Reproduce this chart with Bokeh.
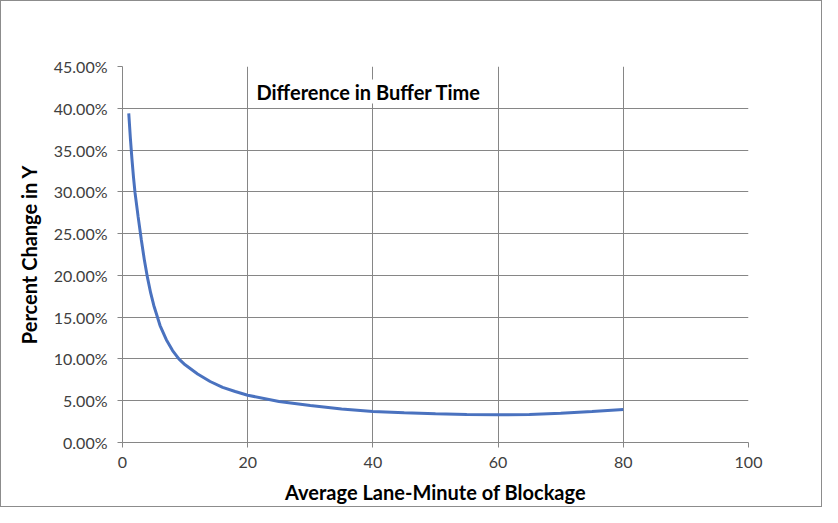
from bokeh.plotting import figure
from bokeh.models import Range1d, NumeralTickFormatter, FixedTicker, Label
from bokeh.embed import file_html
from bokeh.resources import INLINE

# Data
minutes = [1, 1.25, 1.5, 1.75, 2, 2.5, 3, 3.5, 4, 4.5, 5, 6, 7, 8, 9, 10, 12, 14, 16, 18, 20,
           25, 30, 35, 40, 45, 50, 55, 60, 65, 70, 75, 80]
pct_change = [0.394, 0.365, 0.340, 0.318, 0.299, 0.270, 0.243, 0.218, 0.197, 0.179, 0.164, 0.140,
              0.123, 0.110, 0.100, 0.093, 0.082, 0.073, 0.066, 0.061, 0.0566,
              0.049, 0.0443, 0.040, 0.0371, 0.0355, 0.0343, 0.0335, 0.0331, 0.0335, 0.035, 0.037, 0.0395]
x_ticks = [0, 20, 40, 60, 80, 100]
y_ticks = [0.0, 0.05, 0.10, 0.15, 0.20, 0.25, 0.30, 0.35, 0.40, 0.45]

FONT = "Lato"
W, H = 822, 507
p = figure(width=W, height=H, output_backend="svg", toolbar_location=None,
           x_range=Range1d(0, 100), y_range=Range1d(0, 0.45),
           min_border_left=121, min_border_right=75, min_border_top=65, min_border_bottom=66)
p.styles = {"border": "1px solid #8c8c8c"}
p.outline_line_color = None
p.background_fill_color = "white"
p.border_fill_color = "white"

p.line(minutes, pct_change, line_color="#4a72bf", line_width=3)

grid_col = "#868686"
p.xgrid.ticker = FixedTicker(ticks=x_ticks)
p.ygrid.ticker = FixedTicker(ticks=y_ticks)
p.xgrid.grid_line_color = grid_col
p.ygrid.grid_line_color = grid_col
p.xgrid.grid_line_width = 1
p.ygrid.grid_line_width = 1

for ax in (p.xaxis[0], p.yaxis[0]):
    ax.axis_line_color = grid_col
    ax.major_tick_line_color = grid_col
    ax.major_tick_out = 5
    ax.major_tick_in = 0
    ax.minor_tick_line_color = None
    ax.major_label_text_font = FONT
    ax.major_label_text_font_size = "16px"
    ax.major_label_text_color = "#404040"
    ax.axis_label_text_font = FONT
    ax.axis_label_text_font_size = "20px"
    ax.axis_label_text_font_style = "bold"
    ax.axis_label_text_color = "#000000"

p.xaxis.ticker = FixedTicker(ticks=x_ticks)
p.yaxis.ticker = FixedTicker(ticks=y_ticks)
p.yaxis.formatter = NumeralTickFormatter(format="0.00%")
p.xaxis.axis_label = "Average Lane-Minute of Blockage"
p.yaxis.axis_label = "Percent Change in Y"
p.xaxis.major_label_standoff = 9
p.yaxis.major_label_standoff = 10
p.xaxis.axis_label_standoff = 9
p.yaxis.axis_label_standoff = 10

p.add_layout(Label(x=21.4, y=0.42, text="Difference in Buffer Time", text_font=FONT,
                   text_font_size="20px", text_font_style="bold", text_color="#000000",
                   text_baseline="middle", background_fill_color="white"))

open("out.html", "w").write(file_html(p, INLINE))
